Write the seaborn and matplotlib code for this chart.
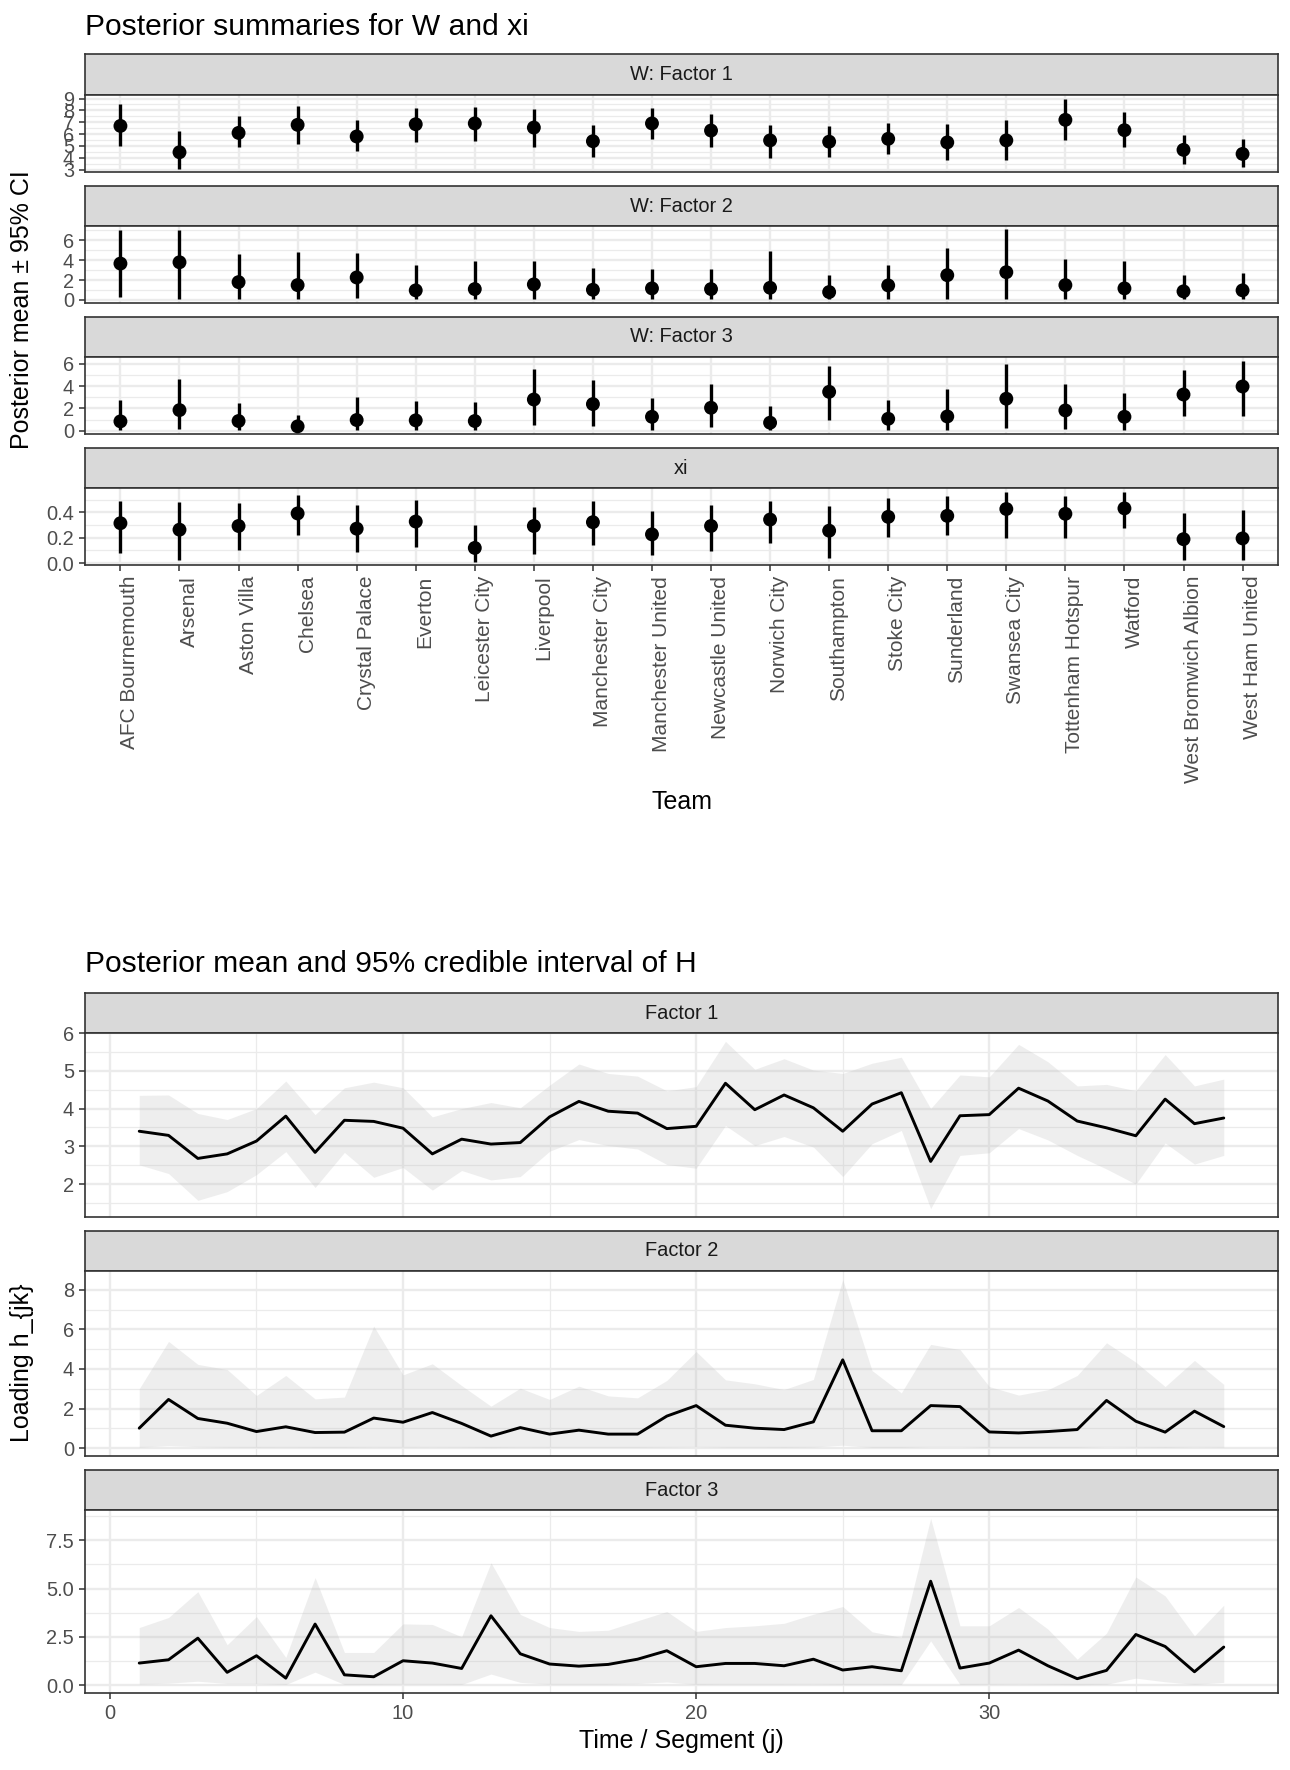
import numpy as np
import pandas as pd
import matplotlib
matplotlib.use("Agg")
import matplotlib.pyplot as plt
from matplotlib.ticker import MultipleLocator, FormatStrFormatter
import seaborn as sns

# ---- data ----
teams = ["AFC Bournemouth", "Arsenal", "Aston Villa", "Chelsea", "Crystal Palace",
         "Everton", "Leicester City", "Liverpool", "Manchester City", "Manchester United",
         "Newcastle United", "Norwich City", "Southampton", "Stoke City", "Sunderland",
         "Swansea City", "Tottenham Hotspur", "Watford", "West Bromwich Albion", "West Ham United"]

w1_mean = [6.69, 4.47, 6.10, 6.78, 5.80, 6.83, 6.90, 6.55, 5.40, 6.90,
           6.30, 5.47, 5.36, 5.60, 5.30, 5.47, 7.20, 6.33, 4.67, 4.33]
w1_lo = [5.00, 3.10, 4.90, 5.17, 4.60, 5.30, 5.40, 4.95, 4.10, 5.60,
         4.90, 3.95, 4.10, 4.30, 3.80, 3.80, 5.50, 4.90, 3.50, 3.20]
w1_hi = [8.50, 6.25, 7.50, 8.33, 7.20, 8.20, 8.25, 8.15, 6.75, 8.17,
         7.67, 6.80, 6.70, 6.90, 6.83, 7.17, 9.00, 7.90, 5.90, 5.58]

w2_mean = [3.67, 3.80, 1.80, 1.50, 2.27, 0.97, 1.10, 1.57, 1.03, 1.17,
           1.10, 1.23, 0.80, 1.47, 2.50, 2.80, 1.50, 1.17, 0.87, 0.97]
w2_lo = [0.30, 0.15, 0.15, 0.10, 0.20, 0.08, 0.06, 0.06, 0.06, 0.08,
         0.08, 0.05, 0.05, 0.08, 0.10, 0.06, 0.10, 0.08, 0.05, 0.06]
w2_hi = [7.07, 7.00, 4.60, 4.87, 4.73, 3.50, 3.97, 3.93, 3.27, 3.10,
         3.10, 4.93, 2.53, 3.50, 5.27, 7.10, 4.17, 3.93, 2.53, 2.67]

w3_mean = [0.84, 1.85, 0.87, 0.39, 0.96, 0.93, 0.87, 2.80, 2.39, 1.25,
           2.06, 0.72, 3.49, 1.07, 1.28, 2.87, 1.82, 1.25, 3.25, 3.97]
w3_lo = [0.05, 0.15, 0.05, 0.02, 0.05, 0.05, 0.05, 0.54, 0.45, 0.10,
         0.30, 0.10, 0.93, 0.10, 0.10, 0.20, 0.15, 0.10, 1.28, 1.28]
w3_hi = [2.72, 4.60, 2.48, 1.37, 2.99, 2.69, 2.60, 5.55, 4.57, 2.96,
         4.20, 2.24, 5.82, 2.75, 3.70, 5.97, 4.18, 3.34, 5.46, 6.30]

xi_mean = [0.315, 0.264, 0.293, 0.392, 0.272, 0.328, 0.120, 0.293, 0.323, 0.227,
           0.293, 0.344, 0.256, 0.365, 0.373, 0.427, 0.389, 0.432, 0.189, 0.195]
xi_lo = [0.080, 0.027, 0.100, 0.224, 0.085, 0.131, 0.013, 0.075, 0.141, 0.067,
         0.099, 0.160, 0.040, 0.208, 0.221, 0.200, 0.197, 0.280, 0.021, 0.021]
xi_hi = [0.490, 0.483, 0.472, 0.539, 0.459, 0.496, 0.299, 0.443, 0.493, 0.408,
         0.456, 0.493, 0.451, 0.517, 0.531, 0.565, 0.531, 0.560, 0.395, 0.416]

segments = list(range(1, 39))

h1_mean = [3.40, 3.29, 2.68, 2.80, 3.14, 3.80, 2.84, 3.69, 3.66, 3.48, 2.80, 3.19, 3.06,
           3.10, 3.78, 4.19, 3.93, 3.88, 3.47, 3.53, 4.67, 3.97, 4.36, 4.02, 3.40, 4.12,
           4.42, 2.60, 3.81, 3.84, 4.54, 4.20, 3.67, 3.49, 3.28, 4.25, 3.60, 3.75]
h1_lo = [2.51, 2.28, 1.57, 1.80, 2.25, 2.86, 1.91, 2.84, 2.18, 2.44, 1.84, 2.36, 2.11,
         2.20, 2.87, 3.18, 3.02, 2.93, 2.52, 2.42, 3.55, 3.02, 3.26, 2.98, 2.20, 3.07,
         3.42, 1.35, 2.76, 2.83, 3.47, 3.17, 2.76, 2.40, 2.00, 3.09, 2.53, 2.76]
h1_hi = [4.35, 4.36, 3.87, 3.71, 4.00, 4.73, 3.84, 4.55, 4.70, 4.55, 3.78, 4.00, 4.16,
         4.02, 4.62, 5.18, 4.93, 4.86, 4.47, 4.58, 5.78, 5.04, 5.32, 5.02, 4.93, 5.20,
         5.36, 4.00, 4.89, 4.84, 5.70, 5.24, 4.60, 4.64, 4.47, 5.43, 4.60, 4.78]

h2_mean = [1.01, 2.46, 1.50, 1.26, 0.84, 1.08, 0.79, 0.81, 1.52, 1.31, 1.80, 1.25, 0.61,
           1.04, 0.71, 0.91, 0.71, 0.71, 1.62, 2.15, 1.16, 1.01, 0.94, 1.33, 4.46, 0.88,
           0.88, 2.15, 2.10, 0.82, 0.77, 0.84, 0.94, 2.41, 1.36, 0.81, 1.87, 1.09]
h2_lo = [0.05, 0.13, 0.08, 0.05, 0.04, 0.05, 0.04, 0.04, 0.06, 0.05, 0.06, 0.05, 0.03,
         0.05, 0.04, 0.04, 0.04, 0.04, 0.06, 0.08, 0.05, 0.05, 0.04, 0.06, 0.15, 0.04,
         0.04, 0.08, 0.08, 0.04, 0.04, 0.04, 0.04, 0.08, 0.06, 0.04, 0.07, 0.05]
h2_hi = [3.00, 5.39, 4.23, 3.97, 2.66, 3.67, 2.49, 2.58, 6.16, 3.70, 4.26, 3.16, 2.12,
         3.03, 2.46, 3.13, 2.64, 2.54, 3.42, 4.88, 3.45, 3.25, 2.96, 3.47, 8.52, 3.92,
         2.79, 5.24, 4.98, 3.11, 2.68, 2.95, 3.67, 5.32, 4.34, 3.11, 4.43, 3.22]

h3_mean = [1.14, 1.31, 2.43, 0.66, 1.52, 0.36, 3.16, 0.53, 0.43, 1.26, 1.14, 0.86, 3.59,
           1.62, 1.09, 0.98, 1.07, 1.34, 1.78, 0.95, 1.12, 1.12, 1.00, 1.34, 0.78, 0.95,
           0.74, 5.38, 0.88, 1.14, 1.81, 1.00, 0.33, 0.76, 2.62, 2.00, 0.69, 1.97]
h3_lo = [0.05, 0.10, 0.20, 0.08, 0.08, 0.03, 0.67, 0.03, 0.03, 0.05, 0.05, 0.03, 0.57,
         0.14, 0.05, 0.05, 0.05, 0.08, 0.16, 0.03, 0.05, 0.05, 0.05, 0.06, 0.04, 0.04,
         0.03, 2.29, 0.03, 0.04, 0.06, 0.04, 0.02, 0.04, 0.36, 0.17, 0.04, 0.14]
h3_hi = [2.98, 3.50, 4.84, 2.09, 3.55, 1.43, 5.57, 1.69, 1.69, 3.17, 3.14, 2.50, 6.34,
         3.66, 2.98, 2.78, 2.84, 3.33, 3.81, 2.78, 2.98, 3.07, 3.20, 3.67, 4.07, 2.76,
         2.47, 8.64, 3.07, 3.07, 4.02, 2.90, 1.34, 2.69, 5.60, 4.62, 2.55, 4.14]

# ---- style ----
sns.set_theme(style="white")
plt.rcParams['font.family'] = ['Liberation Sans', 'DejaVu Sans']

W, H = 1290, 1770
LEFT, RIGHT = 85, 1278
GRID = '#EBEBEB'
DARK = '#333333'
TXT = '#4D4D4D'

fig = plt.figure(figsize=(W / 100, H / 100), dpi=100)


def box(left, top, right, bottom):
    return [left / W, 1 - bottom / H, (right - left) / W, (bottom - top) / H]


def strip(top, bottom, label):
    sax = fig.add_axes(box(LEFT, top, RIGHT, bottom))
    sax.set_facecolor('#D9D9D9')
    sax.set_xticks([])
    sax.set_yticks([])
    for s in sax.spines.values():
        s.set_color(DARK)
        s.set_linewidth(1.2)
    sax.text(0.5, 0.5, label, transform=sax.transAxes, ha='center', va='center',
             fontsize=14.4, color='#1A1A1A')


def style_panel(ax, major, minor, fmt):
    ax.set_facecolor('white')
    ax.yaxis.set_major_locator(MultipleLocator(major))
    ax.yaxis.set_minor_locator(MultipleLocator(minor))
    ax.yaxis.set_major_formatter(FormatStrFormatter(fmt))
    ax.grid(which='major', color=GRID, lw=1.7)
    ax.grid(which='minor', color=GRID, lw=0.9)
    ax.set_axisbelow(True)
    for s in ax.spines.values():
        s.set_color(DARK)
        s.set_linewidth(1.2)
    ax.tick_params(which='major', length=4.3, width=1.1, color=DARK,
                   labelsize=14.4, labelcolor=TXT, pad=3.5, left=True)
    ax.tick_params(which='minor', length=0)
    ax.set_xlabel('')
    ax.set_ylabel('')


def ylims(lo, hi):
    a, b = min(lo), max(hi)
    pad = 0.05 * (b - a)
    return a - pad, b + pad


# ---- top figure: W and xi point ranges ----
top_panels = [
    ("W: Factor 1", w1_mean, w1_lo, w1_hi, 1, 0.5, '%d', (54, 95, 172)),
    ("W: Factor 2", w2_mean, w2_lo, w2_hi, 2, 1, '%d', (186, 226, 303)),
    ("W: Factor 3", w3_mean, w3_lo, w3_hi, 2, 1, '%d', (317, 357, 434)),
    ("xi", xi_mean, xi_lo, xi_hi, 0.2, 0.1, '%.1f', (448, 488, 565)),
]

xpos = np.arange(len(teams))
for i, (label, mean, lo, hi, major, minor, fmt, (st, sb, pb)) in enumerate(top_panels):
    strip(st, sb, label)
    ax = fig.add_axes(box(LEFT, sb, RIGHT, pb))
    df = pd.DataFrame({'x': xpos, 'mean': mean, 'lo': lo, 'hi': hi})
    ax.vlines(df['x'], df['lo'], df['hi'], color='black', lw=2.4, zorder=3)
    sns.scatterplot(data=df, x='x', y='mean', color='black', s=100, edgecolor='none',
                    legend=False, ax=ax, zorder=4)
    ax.set_xlim(-0.6, len(teams) - 0.4)
    ax.set_ylim(*ylims(lo, hi))
    style_panel(ax, major, minor, fmt)
    ax.set_xticks(xpos)
    if i == len(top_panels) - 1:
        # ggplot-style angle=90, hjust=1 labels sit just right of the tick
        ax.set_xticklabels(teams, rotation=90, ha='left', fontsize=15)
        ax.tick_params(axis='x', bottom=True)
    else:
        ax.set_xticklabels([])
        ax.tick_params(axis='x', bottom=False, labelbottom=False)

fig.text(LEFT / W, 1 - 35 / H, "Posterior summaries for W and xi", fontsize=21.6,
         ha='left', va='baseline', color='black')
fig.text(22 / W, 1 - 310 / H, "Posterior mean \u00b1 95% CI", rotation=90, fontsize=18,
         ha='center', va='center', color='black')
fig.text((LEFT + RIGHT) / 2 / W, 1 - 802 / H, "Team", fontsize=18,
         ha='center', va='center', color='black')

# ---- bottom figure: H ribbons ----
bottom_panels = [
    ("Factor 1", h1_mean, h1_lo, h1_hi, 1, 0.5, '%d', (993, 1033, 1217)),
    ("Factor 2", h2_mean, h2_lo, h2_hi, 2, 1, '%d', (1231, 1271, 1456)),
    ("Factor 3", h3_mean, h3_lo, h3_hi, 2.5, 1.25, '%.1f', (1470, 1510, 1693)),
]

for i, (label, mean, lo, hi, major, minor, fmt, (st, sb, pb)) in enumerate(bottom_panels):
    strip(st, sb, label)
    ax = fig.add_axes(box(LEFT, sb, RIGHT, pb))
    df = pd.DataFrame({'j': segments, 'mean': mean, 'lo': lo, 'hi': hi})
    ax.fill_between(df['j'], df['lo'], df['hi'], color='#BDBDBD', alpha=0.25, lw=0, zorder=2)
    sns.lineplot(data=df, x='j', y='mean', color='black', lw=2.1, errorbar=None, ax=ax, zorder=3)
    span = segments[-1] - segments[0]
    ax.set_xlim(segments[0] - 0.05 * span, segments[-1] + 0.05 * span)
    ax.set_ylim(*ylims(lo, hi))
    style_panel(ax, major, minor, fmt)
    ax.xaxis.set_major_locator(MultipleLocator(10))
    ax.xaxis.set_minor_locator(MultipleLocator(5))
    if i == len(bottom_panels) - 1:
        ax.tick_params(axis='x', which='major', bottom=True, labelbottom=True)
    else:
        ax.tick_params(axis='x', which='major', bottom=False, labelbottom=False)

fig.text(LEFT / W, 1 - 972 / H, "Posterior mean and 95% credible interval of H", fontsize=21.6,
         ha='left', va='baseline', color='black')
fig.text(22 / W, 1 - 1363 / H, "Loading h_{jk}", rotation=90, fontsize=18,
         ha='center', va='center', color='black')
fig.text((LEFT + RIGHT) / 2 / W, 1 - 1741 / H, "Time / Segment (j)", fontsize=18,
         ha='center', va='center', color='black')

fig.savefig('out.png', dpi=100)
